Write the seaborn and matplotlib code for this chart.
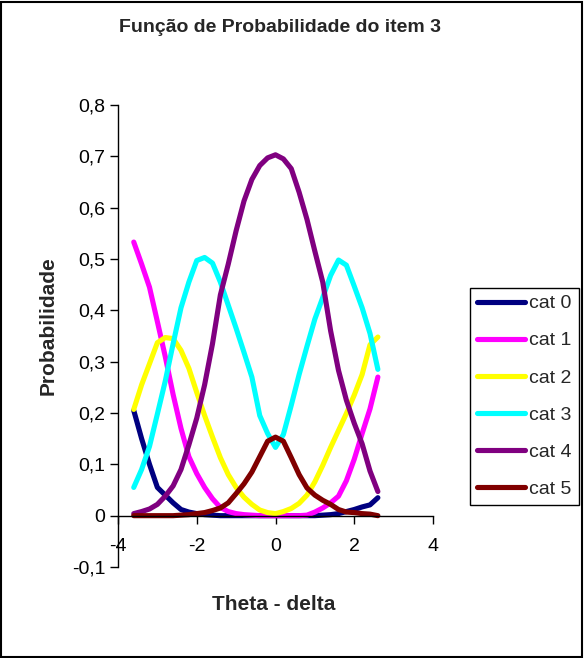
import pandas as pd
import matplotlib.pyplot as plt
import matplotlib.ticker as mticker
from matplotlib.patches import Rectangle
import seaborn as sns

# theta grid (x) and probability curves
theta = [-3.6, -3.4, -3.2, -3.0, -2.8, -2.6, -2.4, -2.2, -2.0, -1.8, -1.6,
         -1.4, -1.2, -1.0, -0.8, -0.6, -0.4, -0.2, 0.0, 0.2, 0.4, 0.6,
         0.8, 1.0, 1.2, 1.4, 1.6, 1.8, 2.0, 2.2, 2.4, 2.6]

cat0 = [0.205, 0.150, 0.100, 0.055, 0.040, 0.025, 0.012, 0.007, 0.004, 0.002, 0.001,
        0.0, 0.0, 0.0, 0.0, 0.0, 0.0, 0.0, 0.0, 0.0, 0.0, 0.0,
        0.0, 0.0, 0.001, 0.002, 0.004, 0.008, 0.012, 0.017, 0.021, 0.035]
cat1 = [0.533, 0.490, 0.445, 0.378, 0.310, 0.236, 0.170, 0.115, 0.082, 0.055, 0.033,
        0.016, 0.008, 0.004, 0.002, 0.001, 0.0, 0.0, 0.0, 0.0, 0.0, 0.0,
        0.001, 0.007, 0.015, 0.025, 0.038, 0.068, 0.110, 0.160, 0.208, 0.270]
cat2 = [0.207, 0.255, 0.296, 0.337, 0.347, 0.345, 0.322, 0.287, 0.240, 0.195, 0.153,
        0.113, 0.080, 0.055, 0.036, 0.022, 0.011, 0.006, 0.004, 0.008, 0.014, 0.024,
        0.040, 0.066, 0.098, 0.133, 0.166, 0.199, 0.235, 0.275, 0.333, 0.348]
cat3 = [0.055, 0.090, 0.135, 0.198, 0.262, 0.335, 0.405, 0.455, 0.497, 0.503, 0.492,
        0.455, 0.410, 0.365, 0.318, 0.270, 0.195, 0.160, 0.133, 0.158, 0.215, 0.275,
        0.330, 0.383, 0.425, 0.468, 0.498, 0.488, 0.447, 0.405, 0.355, 0.285]
cat4 = [0.004, 0.008, 0.013, 0.022, 0.038, 0.058, 0.090, 0.138, 0.190, 0.255, 0.335,
        0.430, 0.490, 0.555, 0.613, 0.655, 0.682, 0.697, 0.703, 0.695, 0.676, 0.630,
        0.577, 0.515, 0.455, 0.360, 0.283, 0.225, 0.180, 0.140, 0.087, 0.047]
cat5 = [0.0, 0.0, 0.0, 0.0, 0.0, 0.0, 0.001, 0.002, 0.004, 0.006, 0.010,
        0.015, 0.025, 0.043, 0.062, 0.085, 0.115, 0.145, 0.153, 0.145, 0.113, 0.080,
        0.054, 0.040, 0.030, 0.022, 0.012, 0.007, 0.006, 0.004, 0.003, 0.0]

labels = ["cat 0", "cat 1", "cat 2", "cat 3", "cat 4", "cat 5"]
colors = ["#000080", "#FF00FF", "#FFFF00", "#00FFFF", "#800080", "#800000"]

sns.set_theme(style="white")
plt.rcParams["font.family"] = ["Liberation Sans", "DejaVu Sans"]

rows = []
for lab, vals in zip(labels, [cat0, cat1, cat2, cat3, cat4, cat5]):
    for t, v in zip(theta, vals):
        rows.append({"theta": t, "prob": v, "cat": lab})
df = pd.DataFrame(rows)

fig = plt.figure(figsize=(5.84, 6.58), dpi=100)
ax = fig.add_axes([118 / 584, 1 - 567 / 658, (433 - 118) / 584, (567 - 105) / 658])

sns.lineplot(data=df, x="theta", y="prob", hue="cat", hue_order=labels,
             palette=colors, linewidth=3.7, sort=False, ax=ax)

ax.set_xlim(-4, 4)
ax.set_ylim(-0.1, 0.8)
ax.set_xticks([-4, -2, 0, 2, 4])
ax.set_yticks([-0.1, 0, 0.1, 0.2, 0.3, 0.4, 0.5, 0.6, 0.7, 0.8])


def fmt_y(v, pos):
    if abs(v) < 1e-9:
        return "0"
    return f"{v:.1f}".replace(".", ",")


ax.yaxis.set_major_formatter(mticker.FuncFormatter(fmt_y))
ax.xaxis.set_major_formatter(mticker.FuncFormatter(lambda v, p: f"{v:.0f}"))

ax.spines["bottom"].set_position(("data", 0))
ax.spines["top"].set_visible(False)
ax.spines["right"].set_visible(False)
for s in ["left", "bottom"]:
    ax.spines[s].set_color("black")
    ax.spines[s].set_linewidth(1)
ax.tick_params(axis="both", which="major", bottom=True, left=True, direction="out",
               length=6, width=1, color="black", labelsize=14, labelcolor="black")
ax.tick_params(axis="x", pad=10)
ax.tick_params(axis="y", pad=3)
ax.set_xlabel("")
ax.set_ylabel("")

handles, labs = ax.get_legend_handles_labels()
leg = ax.legend(handles, labs, loc="upper left", bbox_to_anchor=(470 / 584, 1 - 288 / 658),
                bbox_transform=fig.transFigure, fontsize=14, frameon=True, fancybox=False,
                edgecolor="black", framealpha=1, handlelength=2.5, handletextpad=0.2,
                labelspacing=1.0, borderpad=0.35, borderaxespad=0)
leg.get_frame().set_linewidth(1)

fig.text(280 / 584, 1 - 28 / 658, "Função de Probabilidade do item 3",
         ha="center", va="center", fontsize=14, fontweight="bold")
fig.text(48 / 584, 1 - 326 / 658, "Probabilidade", rotation=90,
         ha="center", va="center", fontsize=15, fontweight="bold")
fig.text(274 / 584, 1 - 605 / 658, "Theta - delta",
         ha="center", va="center", fontsize=15, fontweight="bold")

fig.patches.append(Rectangle((0.002, 0.002), 0.995, 0.995, transform=fig.transFigure,
                             fill=False, edgecolor="black", linewidth=1.5))

fig.savefig("out.png", dpi=100)
plt.close(fig)
